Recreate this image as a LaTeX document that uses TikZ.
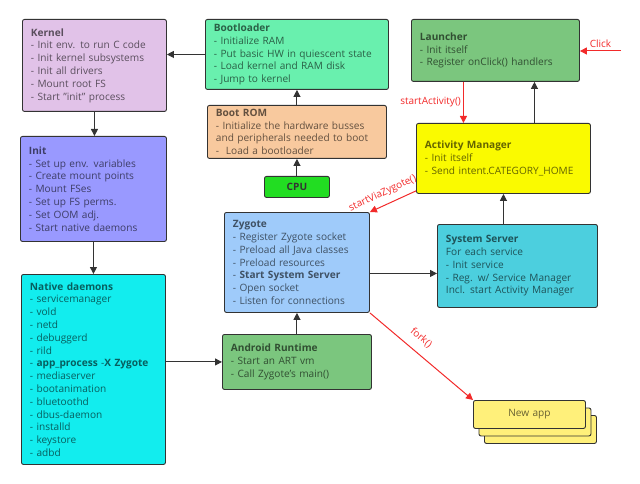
\documentclass[tikz,border=0pt]{standalone}
\usepackage{fontspec}
\setmainfont{Open Sans}
\usepackage{xcolor}
\usetikzlibrary{arrows.meta, positioning, shadows}
\definecolor{edgec}{HTML}{333333}
\definecolor{callc}{HTML}{F22A2A}
\definecolor{kernelc}{HTML}{E1C2E8}
\definecolor{loaderc}{HTML}{69F0AE}
\definecolor{romc}{HTML}{F8C99E}
\definecolor{cpuc}{HTML}{22DD22}
\definecolor{launchc}{HTML}{7BC67E}
\definecolor{amc}{HTML}{FAFA00}
\definecolor{initc}{HTML}{9999FF}
\definecolor{daemonc}{HTML}{12EDEE}
\definecolor{zygotec}{HTML}{9FCBFA}
\definecolor{serverc}{HTML}{4CCFDE}
\definecolor{artc}{HTML}{7BC67E}
\definecolor{newappc}{HTML}{FFF07A}
\begin{document}
\begin{tikzpicture}[x=1pt, y=-1pt,
block/.style={draw=edgec, line width=0.9pt, rounded corners=2pt, anchor=north west, align=left,
  inner xsep=8.5pt, inner ysep=0pt, font=\fontsize{10.1}{12.8}\selectfont, fill=#1, text=#1!40!black},
conn/.style={draw=edgec, line width=1pt, -{Triangle[length=7pt,width=7pt]}},
call/.style={draw=callc, line width=1pt, -{Triangle[length=7pt,width=7pt]}},
calltext/.style={text=callc, font=\fontsize{10}{11}\selectfont, inner sep=1pt}]

\useasboundingbox (0,0) rectangle (640,484);

\node[block=kernelc, text width=127pt, minimum height=92pt] (kernel) at (22,19) {\textbf{Kernel}\\- Init env. to run C code\\- Init kernel subsystems\\- Init all drivers\\- Mount root FS\\- Start "init" process};
\node[block=loaderc, text width=166pt, minimum height=70pt] (bootloader) at (205,19) {\textbf{Bootloader}\\- Initialize RAM\\- Put basic HW in quiescent state\\- Load kernel and RAM disk\\- Jump to kernel};
\node[block=romc, text width=162pt, minimum height=53pt] (bootrom) at (207,105) {\textbf{Boot ROM}\\- Initialize the hardware busses\\and peripherals needed to boot\\-\ \ Load a bootloader};
\node[block=cpuc, text width=48pt, minimum height=21pt, align=center, text=black!80] (cpu) at (264,176) {\textbf{CPU}};
\node[block=launchc, text width=151pt, minimum height=62pt] (launcher) at (411,19) {\textbf{Launcher}\\- Init itself\\- Register onClick() handlers};
\node[block=amc, text width=157pt, minimum height=70pt] (am) at (416,123) {\textbf{Activity Manager}\\- Init itself\\- Send intent.CATEGORY\_HOME};
\node[block=initc, text width=129pt, minimum height=105pt] (init) at (20,136) {\textbf{Init}\\- Set up env. variables\\- Create mount points\\- Mount FSes\\- Set up FS perms.\\- Set OOM adj.\\- Start native daemons};
\node[block=daemonc, text width=127pt, minimum height=190pt] (natd) at (21,274) {\textbf{Native daemons}\\- servicemanager\\- vold\\- netd\\- debuggerd\\- rild\\- \textbf{app\_process} -\textbf{X Zygote}\\- mediaserver\\- bootanimation\\- bluetoothd\\- dbus-daemon\\- installd\\- keystore\\- adbd};
\node[block=zygotec, text width=128pt, minimum height=100pt] (zygote) at (224,212) {\textbf{Zygote}\\- Register Zygote socket\\- Preload all Java classes\\- Preload resources\\- \textbf{Start System Server}\\- Open socket\\- Listen for connections};
\node[block=serverc, text width=143pt, minimum height=83pt] (sysserver) at (437,224) {\textbf{System Server}\\For each service\\- Init service\\- Reg. w/ Service Manager\\Incl. start Activity Manager};
\node[block=artc, text width=132pt, minimum height=55pt] (art) at (222,334) {\textbf{Android Runtime}\\- Start an ART vm\\- Call Zygote's main()};
\node[block=newappc, double copy shadow={shadow xshift=5.5pt, shadow yshift=-7.5pt}, text width=95pt, minimum height=28pt, align=center] (newapp) at (473,400) {New app};

\draw[conn] (bootloader.west) -- (bootloader.west -| kernel.east);
\draw[conn] (kernel.south) -- (kernel.south |- init.north);
\draw[conn] (init.south) -- (init.south |- natd.north);
\draw[conn] (cpu.north) -- (cpu.north |- bootrom.south);
\draw[conn] (bootrom.north) -- (bootrom.north |- bootloader.south);
\draw[conn] (art.west -| natd.east) -- (art.west);
\draw[conn] (art.north) -- (art.north |- zygote.south);
\coordinate (zs) at ([yshift=-11pt]zygote.east);
\draw[conn] (zs) -- (zs -| sysserver.west);
\draw[conn] (am.south |- sysserver.north) -- (am.south);
\coordinate (amup) at ([xshift=31pt]am.north);
\draw[conn] (amup) -- (amup |- launcher.south);

\coordinate (click) at (621,51);
\draw[call] (click) -- (click -| launcher.east) node[midway, above=2pt, calltext] {Click};
\coordinate (lstart) at ([xshift=-32pt]launcher.south);
\draw[call] (lstart) -- (lstart |- am.north) node[midway, left=1pt, calltext] {startActivity()};
\draw[call] ([yshift=3pt]am.south west) -- (zygote.north east) node[pos=.62, sloped, above=5pt, calltext] {startViaZygote()};
\draw[call] (zygote.south east) -- (newapp.north west) node[pos=.41, sloped, above=8pt, calltext] {fork()};
\end{tikzpicture}
\end{document}
